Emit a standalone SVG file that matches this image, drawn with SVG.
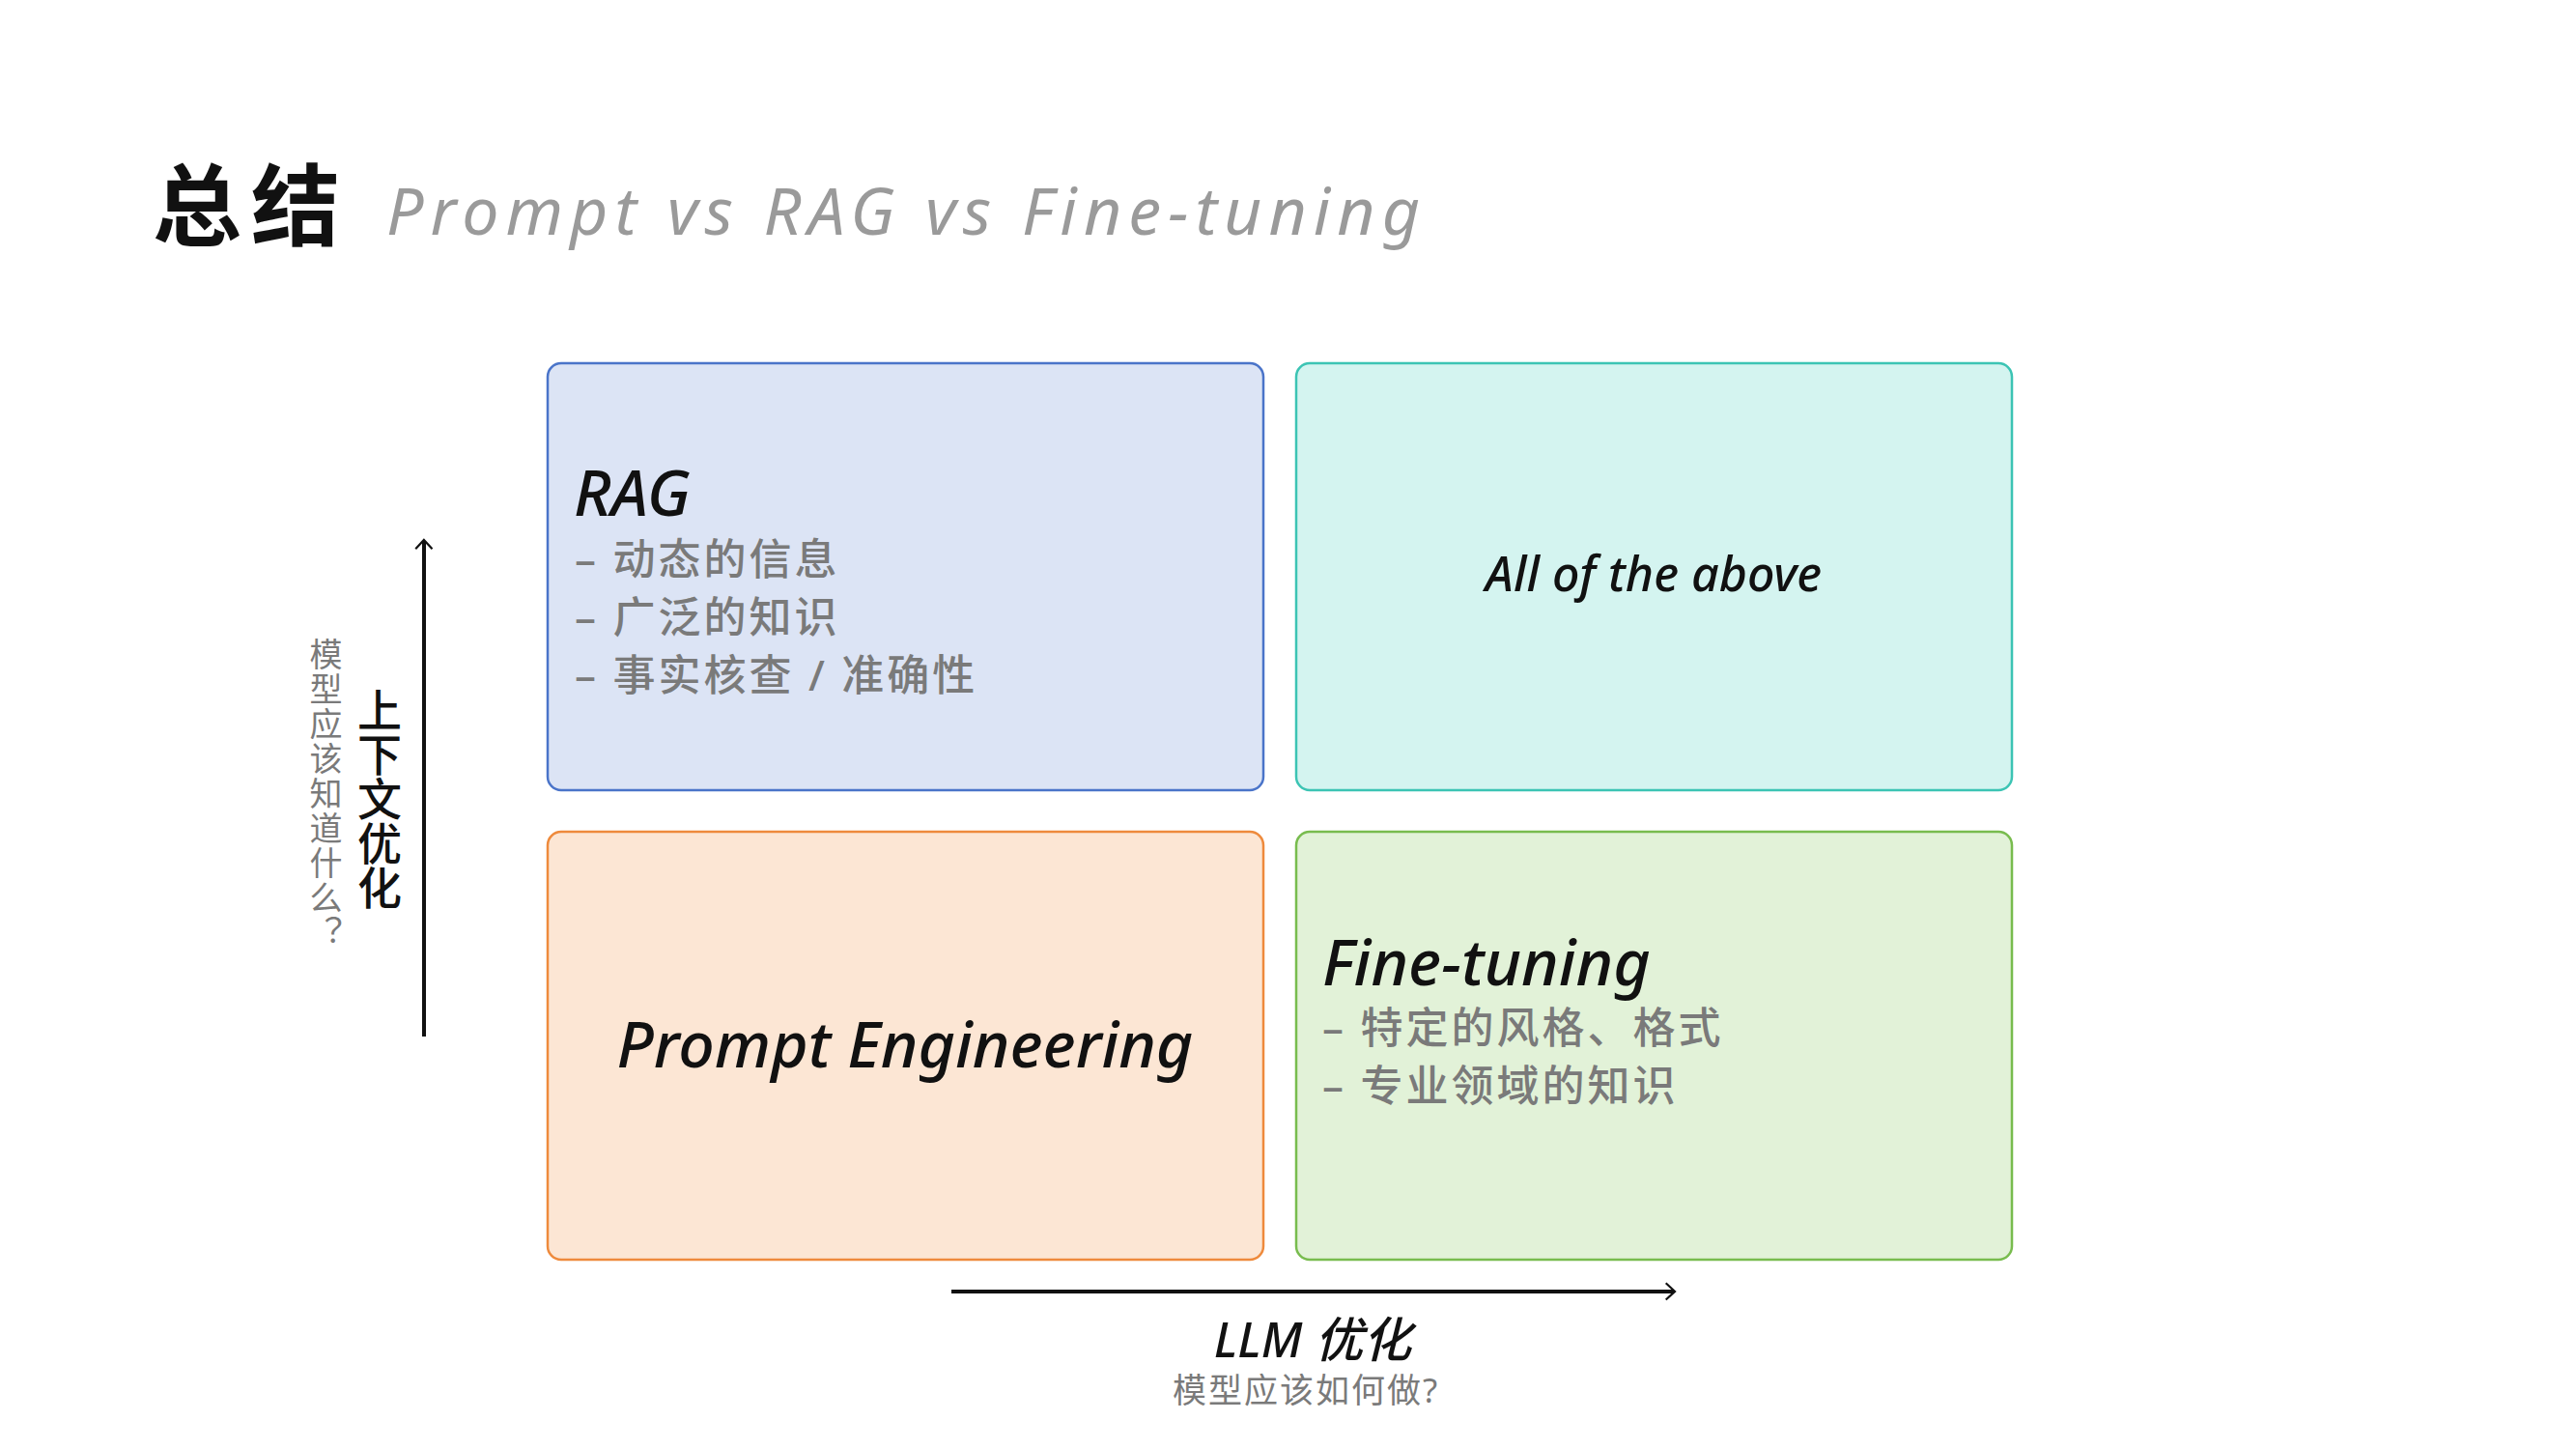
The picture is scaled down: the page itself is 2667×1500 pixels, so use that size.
<svg xmlns="http://www.w3.org/2000/svg" width="2667" height="1500" viewBox="0 0 2667 1500">
<style>
text{font-family:"Noto Sans","Noto Sans CJK SC",sans-serif}
.h{font-size:66px;font-style:italic;font-weight:500;fill:#111}
.l{font-size:44px;fill:#7a7a7a;font-weight:500;letter-spacing:3px}
.box{stroke-width:2.5}
.ax{stroke:#111;stroke-width:4;fill:none}
</style>
<defs><marker id="a" viewBox="0 0 10 10" refX="9" refY="5" markerWidth="6" markerHeight="6" orient="auto" markerUnits="userSpaceOnUse" overflow="visible"><path d="M-4,-7 L9,5 L-4,17" transform="scale(1.2) translate(0,-1)" fill="none" stroke="#111" stroke-width="3"/></marker></defs>
<rect width="2667" height="1500" fill="#fff"/>
<text x="158" y="247" font-size="92" font-weight="700" fill="#111" font-family="Noto Sans CJK SC,sans-serif" letter-spacing="10">总结</text>
<text x="400" y="243" font-size="68" font-style="italic" fill="#9a9a9a" letter-spacing="7">Prompt vs RAG vs Fine-tuning</text>
<g id="rag"><rect class="box" x="567" y="376" width="741" height="442" rx="14" fill="#dce4f5" stroke="#4a74c9"/>
<text class="h" x="594" y="534">RAG</text>
<text class="l" x="595" y="595">– 动态的信息</text><text class="l" x="595" y="655">– 广泛的知识</text><text class="l" x="595" y="715">– 事实核查 / 准确性</text></g>
<g id="all"><rect class="box" x="1342" y="376" width="741" height="442" rx="14" fill="#d4f4f0" stroke="#3cc4b4"/>
<text x="1712" y="612" font-size="50" font-style="italic" font-weight="500" fill="#111" text-anchor="middle">All of the above</text></g>
<g id="prompt"><rect class="box" x="567" y="861" width="741" height="443" rx="14" fill="#fce6d4" stroke="#ee8a3c"/>
<text class="h" x="937" y="1105" text-anchor="middle">Prompt Engineering</text></g>
<g id="ft"><rect class="box" x="1342" y="861" width="741" height="443" rx="14" fill="#e2f2d8" stroke="#78bc4e"/>
<text class="h" x="1369" y="1020">Fine-tuning</text>
<text class="l" x="1369" y="1080">– 特定的风格、格式</text><text class="l" x="1369" y="1140">– 专业领域的知识</text></g>
<g id="axes">
<line class="ax" x1="439" y1="1073" x2="439" y2="560" marker-end="url(#a)"/>
<line class="ax" x1="985" y1="1337" x2="1733" y2="1337" marker-end="url(#a)"/>
</g>
<text x="391" y="712" font-size="46" font-weight="500" fill="#111" writing-mode="tb" font-family="Noto Sans CJK SC,sans-serif">上下文优化</text>
<text x="336" y="660" font-size="34" fill="#7a7a7a" writing-mode="tb" font-family="Noto Sans CJK SC,sans-serif" letter-spacing="2">模型应该知道什么？</text>
<text x="1359" y="1405" font-size="50" font-style="italic" font-weight="500" fill="#111" text-anchor="middle">LLM 优化</text>
<text x="1352" y="1452" font-size="35" fill="#7a7a7a" text-anchor="middle" letter-spacing="2">模型应该如何做?</text>
</svg>
